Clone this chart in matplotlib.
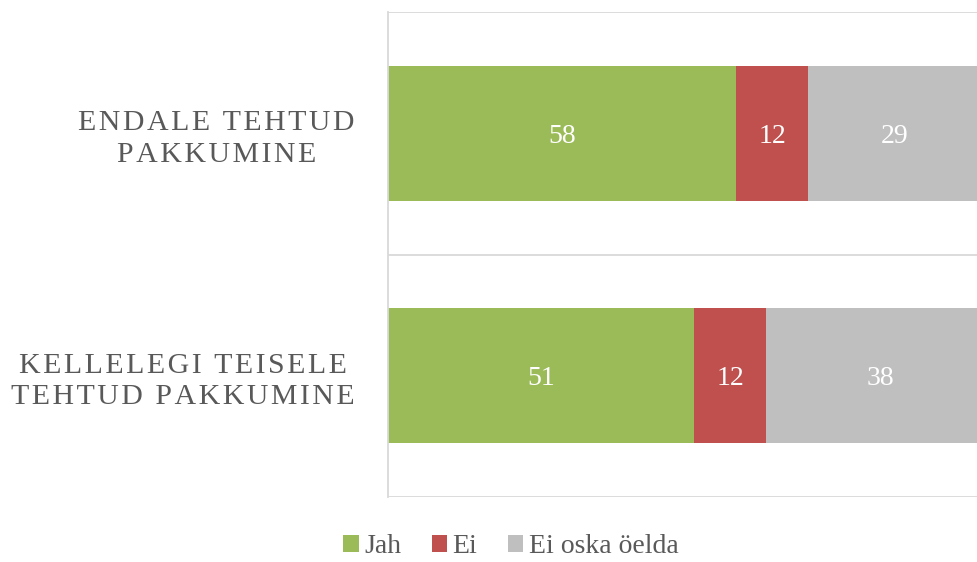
import matplotlib
matplotlib.use("Agg")
import matplotlib.pyplot as plt
import numpy as np

categories = ["KELLELEGI TEISELE\nTEHTUD PAKKUMINE", "ENDALE TEHTUD\nPAKKUMINE"]
series_names = ["Jah", "Ei", "Ei oska öelda"]
jah = [51, 58]
ei = [12, 12]
ei_oska = [38, 29]
colors = ["#9BBB59", "#C0504D", "#BFBFBF"]

plt.rcParams["font.family"] = ["Liberation Serif", "DejaVu Serif"]
text_color = "#595959"


def spaced(s):
    # imitate letter spacing with hair spaces
    return "\n".join("\u200a".join(line) for line in s.split("\n"))


fig = plt.figure(figsize=(9.77, 5.62), dpi=100)
ax = fig.add_axes([388 / 977, 1 - 497 / 562, 600 / 977, 485 / 562])

y = np.arange(len(categories))
left = np.zeros(len(categories))
for name, vals, c in zip(series_names, [jah, ei, ei_oska], colors):
    bars = ax.barh(y, vals, left=left, height=0.556, color=c, label=name)
    for b, v in zip(bars, vals):
        ax.text(b.get_x() + b.get_width() / 2, b.get_y() + b.get_height() / 2,
                str(v), ha="center", va="center_baseline", color="white",
                fontsize=20)
    left += np.array(vals)

ax.set_xlim(0, 100)
ax.set_ylim(-0.5, 1.5)
ax.set_xticks([])
ax.set_yticks(y)
labels = ax.set_yticklabels([spaced(c) for c in categories], fontsize=21.5,
                            color=text_color, linespacing=1.28)
for t in labels:
    t.set_multialignment("center")
ax.tick_params(axis="y", length=0, pad=24)
ax.set_yticks([-0.5, 0.5, 1.5], minor=True)
ax.tick_params(axis="y", which="minor", length=0)
ax.grid(axis="y", which="minor", color="#D9D9D9", linewidth=1.3)
ax.set_axisbelow(True)
for s in ["top", "right", "bottom"]:
    ax.spines[s].set_visible(False)
ax.spines["left"].set_color("#D9D9D9")
ax.spines["left"].set_linewidth(1.3)

fig.legend(loc="lower center", bbox_to_anchor=(0.523, -0.04), ncol=3,
           frameon=False, fontsize=20, labelcolor=text_color,
           handlelength=0.55, handleheight=0.55, handletextpad=0.2,
           columnspacing=1.1)

fig.savefig("out.png", dpi=100)
